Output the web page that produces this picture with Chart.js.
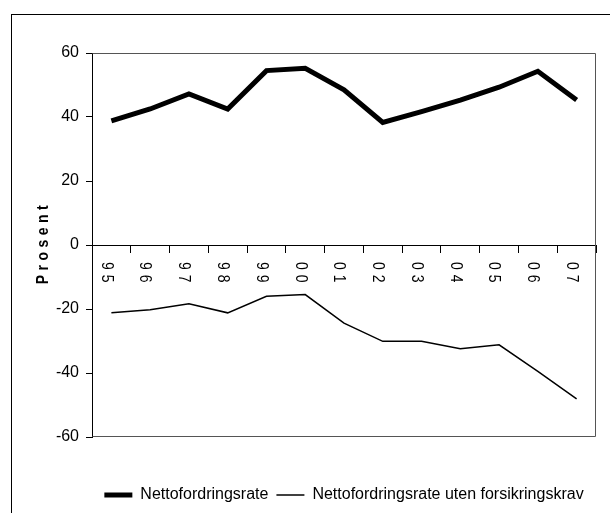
<!DOCTYPE html>
<html>
<head>
<meta charset="utf-8">
<script src="https://cdn.jsdelivr.net/npm/chart.js@4"></script>
<style>
  body { margin: 0; background: #fff; }
  canvas { display: block; }
</style>
</head>
<body>
<canvas id="chart" width="610" height="513"></canvas>
<script>
// Year labels (1995 - 2007)
const years = ['95', '96', '97', '98', '99', '00', '01', '02', '03', '04', '05', '06', '07'];

// Series values, per cent
const nettofordringsrate = [38.8, 42.5, 47.2, 42.5, 54.5, 55.2, 48.5, 38.3, 41.7, 45.3, 49.3, 54.3, 45.3];
const utenForsikringskrav = [-21.2, -20.2, -18.4, -21.2, -16.0, -15.5, -24.4, -30.1, -30.1, -32.4, -31.2, -39.5, -48.1];

// Value axis
const yMin = -60;
const yMax = 60;
const yStep = 20;
const yTitle = 'Prosent';

const FONT = "'Liberation Sans', Arial, sans-serif";

// outer frame around the whole figure
const framePlugin = {
    id: 'frame',
    beforeDraw(chart) {
        const ctx = chart.ctx;
        ctx.save();
        ctx.strokeStyle = '#000';
        ctx.lineWidth = 1;
        ctx.strokeRect(11.5, 14.5, 700, 600);
        ctx.restore();
    }
};

// grey box on top, right and bottom of the plot area
const plotBoxPlugin = {
    id: 'plotBox',
    beforeDatasetsDraw(chart) {
        const { ctx, chartArea: a } = chart;
        const l = Math.round(a.left) + 0.5, r = Math.round(a.right) - 0.5;
        const t = Math.round(a.top) + 0.5, b = Math.round(a.bottom) - 0.5;
        ctx.save();
        ctx.strokeStyle = '#555';
        ctx.lineWidth = 1;
        ctx.beginPath();
        ctx.moveTo(l, t);
        ctx.lineTo(r, t);
        ctx.lineTo(r, b);
        ctx.lineTo(l, b);
        ctx.stroke();
        ctx.restore();
    }
};

// year labels written top-to-bottom under the zero line, and the axis title
// (narrow face is not installed, so squeeze along the text direction)
const labelsPlugin = {
    id: 'verticalLabels',
    afterDraw(chart) {
        const ctx = chart.ctx;
        const xs = chart.scales.x;
        const zero = chart.scales.y.getPixelForValue(0);
        ctx.save();
        ctx.fillStyle = '#000';
        ctx.font = "17px " + FONT;
        ctx.letterSpacing = '6px';
        ctx.textAlign = 'left';
        ctx.textBaseline = 'middle';
        chart.data.labels.forEach((lbl, i) => {
            ctx.save();
            ctx.translate(xs.getPixelForValue(i) - 5, zero + 17);
            ctx.rotate(Math.PI / 2);
            ctx.scale(0.82, 1);
            ctx.fillText(lbl, 0, 0);
            ctx.restore();
        });

        ctx.font = "bold 17px " + FONT;
        ctx.letterSpacing = '5.5px';
        ctx.textAlign = 'center';
        ctx.translate(43, 245);
        ctx.rotate(-Math.PI / 2);
        ctx.scale(0.82, 1);
        ctx.fillText(yTitle, 3, 0);
        ctx.restore();
    }
};

new Chart(document.getElementById('chart'), {
    type: 'line',
    data: {
        labels: years,
        datasets: [{
            label: 'Nettofordringsrate',
            data: nettofordringsrate,
            borderColor: '#000',
            backgroundColor: '#000',
            borderWidth: 5,
            pointRadius: 0,
            tension: 0
        }, {
            label: 'Nettofordringsrate uten forsikringskrav',
            data: utenForsikringskrav,
            borderColor: '#000',
            backgroundColor: '#000',
            borderWidth: 1.5,
            pointRadius: 0,
            tension: 0
        }]
    },
    options: {
        responsive: false,
        animation: false,
        devicePixelRatio: 1,
        layout: { padding: { top: 53, right: 14, left: 0, bottom: 0 } },
        plugins: {
            legend: {
                position: 'bottom',
                fullSize: false,
                labels: {
                    usePointStyle: true,
                    pointStyle: 'line',
                    pointStyleWidth: 28,
                    padding: 8,
                    color: '#000',
                    font: { family: FONT, size: 16 }
                }
            },
            tooltip: { enabled: false }
        },
        scales: {
            x: {
                type: 'category',
                position: { y: 0 },
                offset: true,
                grid: { drawOnChartArea: false, offset: true, tickLength: 7, color: '#000' },
                border: { color: '#000', width: 1 },
                ticks: { display: false }
            },
            spacer: {
                type: 'category',
                position: 'bottom',
                grid: { display: false },
                border: { display: false },
                ticks: { display: false },
                afterFit(s) { s.height = 42; }
            },
            y: {
                min: yMin,
                max: yMax,
                ticks: {
                    stepSize: yStep,
                    color: '#000',
                    padding: 7,
                    font: { family: FONT, size: 16 }
                },
                grid: { drawOnChartArea: false, tickLength: 6, color: '#000' },
                border: { color: '#000', width: 1 },
                afterFit(s) { s.width = 92; }
            }
        }
    },
    plugins: [framePlugin, plotBoxPlugin, labelsPlugin]
});
</script>
</body>
</html>
